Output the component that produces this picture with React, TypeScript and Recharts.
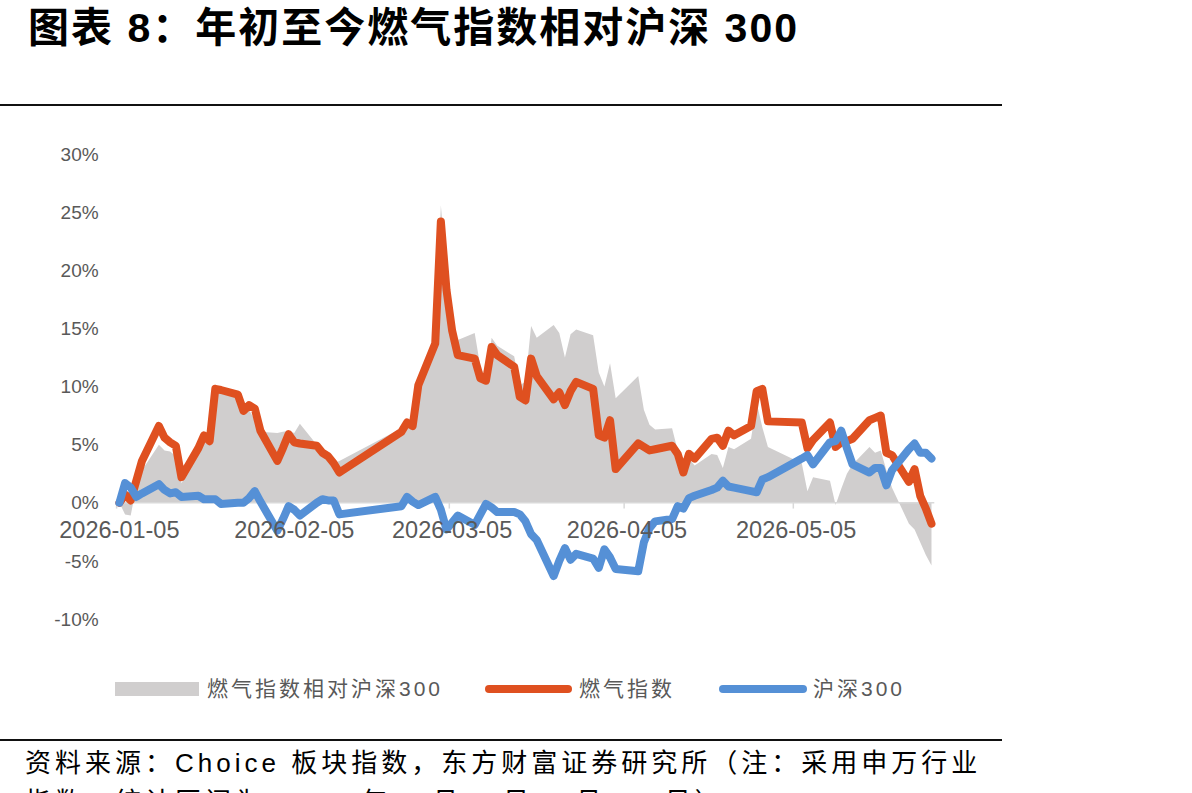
import React from 'react';
import { ComposedChart, Area, Line, XAxis, YAxis, ReferenceLine, ReferenceDot } from 'recharts';

// trading days of 2026 (MM-DD)
const tradeDates = [
  '01-05', '01-06', '01-07', '01-08', '01-09',
  '01-12', '01-13', '01-14', '01-15', '01-16',
  '01-19', '01-20', '01-21', '01-22', '01-23',
  '01-26', '01-27', '01-28', '01-29', '01-30',
  '02-02', '02-03', '02-04', '02-05', '02-06',
  '02-09', '02-10', '02-11', '02-12', '02-13',
  '02-24', '02-25', '02-26', '02-27',
  '03-02', '03-03', '03-04', '03-05', '03-06',
  '03-09', '03-10', '03-11', '03-12', '03-13',
  '03-16', '03-17', '03-18', '03-19', '03-20',
  '03-23', '03-24', '03-25', '03-26', '03-27',
  '03-30', '03-31', '04-01', '04-02', '04-03',
  '04-07', '04-08', '04-09', '04-10',
  '04-13', '04-14', '04-15', '04-16', '04-17',
  '04-20', '04-21', '04-22', '04-23', '04-24',
  '04-27', '04-28', '04-29', '04-30',
  '05-06', '05-07', '05-08',
  '05-11', '05-12', '05-13', '05-14', '05-15',
  '05-18', '05-19', '05-20', '05-21', '05-22',
  '05-25', '05-26', '05-27', '05-28', '05-29',
];

// 燃气指数, % change since start of year
const gasIndex = [
  0.0, 0.7, 0.2, 1.9, 3.6,
  6.6, 5.6, 5.2, 4.9, 2.2,
  4.7, 5.8, 5.3, 9.8, 9.7,
  9.3, 7.9, 8.4, 8.1, 6.2,
  3.6, 4.7, 5.9, 5.2, 5.1,
  4.9, 4.3, 4.0, 3.4, 2.6,
  6.1, 6.9, 6.6, 10.1,
  13.7, 24.2, 18.3, 14.8, 12.7,
  12.4, 10.7, 10.5, 13.4, 12.7,
  11.7, 9.1, 8.8, 12.4, 10.9,
  8.9, 9.5, 8.4, 9.6, 10.4,
  9.8, 5.8, 5.6, 7.1, 2.9,
  5.1, 4.8, 4.5, 4.6,
  4.9, 4.2, 2.6, 4.2, 3.8,
  5.5, 5.6, 4.9, 6.2, 5.8,
  6.6, 9.6, 9.8, 7.0,
  6.9, 4.7, 5.4,
  6.9, 4.8, 5.2, 5.3, 5.5,
  7.1, 7.3, 7.5, 4.3, 4.1,
  1.8, 2.9, 0.6, -0.5, -1.8,
];

// 沪深300
const hs300 = [
  0.0, 1.7, 1.3, 0.5, 0.8,
  1.6, 1.1, 0.8, 0.9, 0.5,
  0.6, 0.3, 0.3, 0.3, -0.1,
  0.0, 0.0, 0.4, 1.0, 0.1,
  -2.4, -1.4, -0.3, -0.6, -1.1,
  0.0, 0.3, 0.2, 0.2, -1.0,
  -0.3, 0.5, 0.1, -0.2,
  0.5, -0.6, -2.3, -1.7, -1.1,
  -1.9, -1.0, -0.1, -0.4, -0.8,
  -0.8, -1.0, -1.6, -2.7, -3.2,
  -6.3, -5.0, -3.9, -4.9, -4.4,
  -4.8, -5.6, -4.0, -4.7, -5.7,
  -5.9, -3.4, -2.2, -1.6,
  -1.4, -0.3, -0.5, 0.4, 0.6,
  1.1, 1.3, 1.9, 1.4, 1.3,
  1.0, 0.9, 2.0, 2.2,
  3.8, 4.1, 3.3,
  5.2, 5.3, 6.2, 4.7, 3.3,
  2.6, 3.0, 3.0, 1.5, 2.8,
  4.6, 5.1, 4.3, 4.3, 3.8,
];

// 燃气指数相对沪深300
const gasVsHs300 = [
  0.0, -1.0, -1.1, 1.4, 2.8,
  5.0, 4.5, 4.4, 4.0, 1.7,
  4.1, 5.5, 5.0, 9.5, 9.8,
  9.3, 7.9, 8.0, 7.1, 6.1,
  6.0, 6.1, 6.2, 6.0, 6.8,
  5.0, 4.0, 3.8, 3.4, 3.6,
  6.4, 6.4, 6.5, 10.3,
  13.2, 25.6, 20.0, 15.2, 14.0,
  14.6, 11.7, 10.6, 14.2, 13.5,
  12.6, 10.1, 10.4, 15.2, 14.2,
  15.3, 14.6, 12.5, 14.5, 14.9,
  14.4, 11.2, 10.0, 12.0, 9.0,
  10.9, 8.0, 6.7, 6.3,
  6.4, 4.5, 3.1, 3.8, 3.2,
  4.2, 4.1, 3.0, 4.8, 4.6,
  5.5, 8.6, 6.5, 4.8,
  3.4, 1.0, 2.2,
  1.9, -0.2, 1.2, 2.5, 3.3,
  4.8, 4.3, 4.5, 2.8, 1.3,
  -1.8, -2.3, -3.4, -4.5, -5.4,
];

const yTicks = [-10, -5, 0, 5, 10, 15, 20, 25, 30];
const xTickDates = ['2026-01-05', '2026-02-05', '2026-03-05', '2026-04-05', '2026-05-05'];

const DAY_MS = 86400000;
const START = Date.UTC(2026, 0, 5);
const dayOf = (iso: string) => (Date.parse(iso + 'T00:00:00Z') - START) / DAY_MS;

const chartData = tradeDates.map((d, i) => ({
  day: dayOf('2026-' + d),
  gas: gasIndex[i],
  hs: hs300[i],
  rel: gasVsHs300[i],
}));

const LATIN = "'Liberation Sans', Arial, 'Noto Sans CJK SC', sans-serif";
const GREY_TEXT = '#595959';
const ORANGE = '#DF5020';
const BLUE = '#5590D6';
const AREA_GREY = '#D0CECE';

const dateLabel = (text: string) => (props: any) => (
  <text
    x={props.cx}
    y={props.cy + 35}
    textAnchor="middle"
    fontSize={23.5}
    fill={GREY_TEXT}
    fontFamily={LATIN}
  >
    {text}
  </text>
);

export default function App() {
  return (
    <div
      style={{
        position: 'absolute',
        left: 0,
        top: 0,
        width: 1192,
        height: 793,
        overflow: 'hidden',
        background: '#fff',
        fontFamily: LATIN,
      }}
    >
      <div
        style={{
          position: 'absolute',
          left: 28,
          top: 4,
          fontSize: 41,
          fontWeight: 700,
          lineHeight: '48px',
          letterSpacing: 2,
          whiteSpace: 'nowrap',
          color: '#000',
        }}
      >
        图表 8：年初至今燃气指数相对沪深 300
      </div>
      <div style={{ position: 'absolute', left: 0, top: 104, width: 1002, height: 2, background: '#111' }} />

      <div style={{ position: 'absolute', left: 0, top: 0 }}>
        <ComposedChart
          width={1000}
          height={700}
          data={chartData}
          margin={{ top: 154, right: 65.7, bottom: 81, left: 16.6 }}
        >
          <XAxis type="number" dataKey="day" domain={[-0.5, 144.5]} hide />
          <YAxis
            type="number"
            domain={[-10, 30]}
            ticks={yTicks}
            interval={0}
            tickFormatter={(v: number) => `${v}%`}
            axisLine={false}
            tickLine={false}
            tickSize={0}
            tickMargin={18}
            width={100}
            tick={{ fill: GREY_TEXT, fontSize: 19, fontFamily: LATIN }}
          />
          <Area
            type="linear"
            dataKey="rel"
            fill={AREA_GREY}
            fillOpacity={1}
            stroke="none"
            isAnimationActive={false}
          />
          <ReferenceLine y={0} stroke="#D9D9D9" strokeWidth={1.5} />
          {xTickDates.map((d) => (
            <ReferenceLine
              key={'t' + d}
              segment={[
                { x: dayOf(d) - 0.5, y: 0 },
                { x: dayOf(d) - 0.5, y: -0.5 },
              ]}
              stroke="#D9D9D9"
              strokeWidth={1.5}
            />
          ))}
          {xTickDates.map((d) => (
            <ReferenceDot key={'l' + d} x={dayOf(d)} y={0} r={0} shape={dateLabel(d)} />
          ))}
          <Line
            type="linear"
            dataKey="gas"
            stroke={ORANGE}
            strokeWidth={8}
            strokeLinejoin="round"
            strokeLinecap="round"
            dot={false}
            isAnimationActive={false}
          />
          <Line
            type="linear"
            dataKey="hs"
            stroke={BLUE}
            strokeWidth={8}
            strokeLinejoin="round"
            strokeLinecap="round"
            dot={false}
            isAnimationActive={false}
          />
        </ComposedChart>
      </div>

      {/* legend */}
      <div style={{ position: 'absolute', left: 115, top: 682, width: 84, height: 14, background: AREA_GREY }} />
      <div style={{ position: 'absolute', left: 207, top: 675, lineHeight: '28px', fontSize: 21, letterSpacing: 3, color: GREY_TEXT, whiteSpace: 'nowrap' }}>
        燃气指数相对沪深300
      </div>
      <div style={{ position: 'absolute', left: 485, top: 685, width: 87, height: 8, borderRadius: 4, background: ORANGE }} />
      <div style={{ position: 'absolute', left: 579, top: 675, lineHeight: '28px', fontSize: 21, letterSpacing: 3, color: GREY_TEXT, whiteSpace: 'nowrap' }}>
        燃气指数
      </div>
      <div style={{ position: 'absolute', left: 719, top: 685, width: 88, height: 8, borderRadius: 4, background: BLUE }} />
      <div style={{ position: 'absolute', left: 813, top: 675, lineHeight: '28px', fontSize: 21, letterSpacing: 3, color: GREY_TEXT, whiteSpace: 'nowrap' }}>
        沪深300
      </div>

      <div style={{ position: 'absolute', left: 0, top: 739, width: 1002, height: 2, background: '#111' }} />
      <div style={{ position: 'absolute', left: 25, top: 745, fontSize: 26, lineHeight: '36px', letterSpacing: 4, color: '#000', whiteSpace: 'nowrap' }}>
        资料来源：Choice 板块指数，东方财富证券研究所（注：采用申万行业
      </div>
      <div style={{ position: 'absolute', left: 25, top: 784, fontSize: 26, lineHeight: '36px', letterSpacing: 4, color: '#000', whiteSpace: 'nowrap' }}>
        指数，统计区间为 2026 年 1 月 1 日-5 月 29 日）
      </div>
    </div>
  );
}
